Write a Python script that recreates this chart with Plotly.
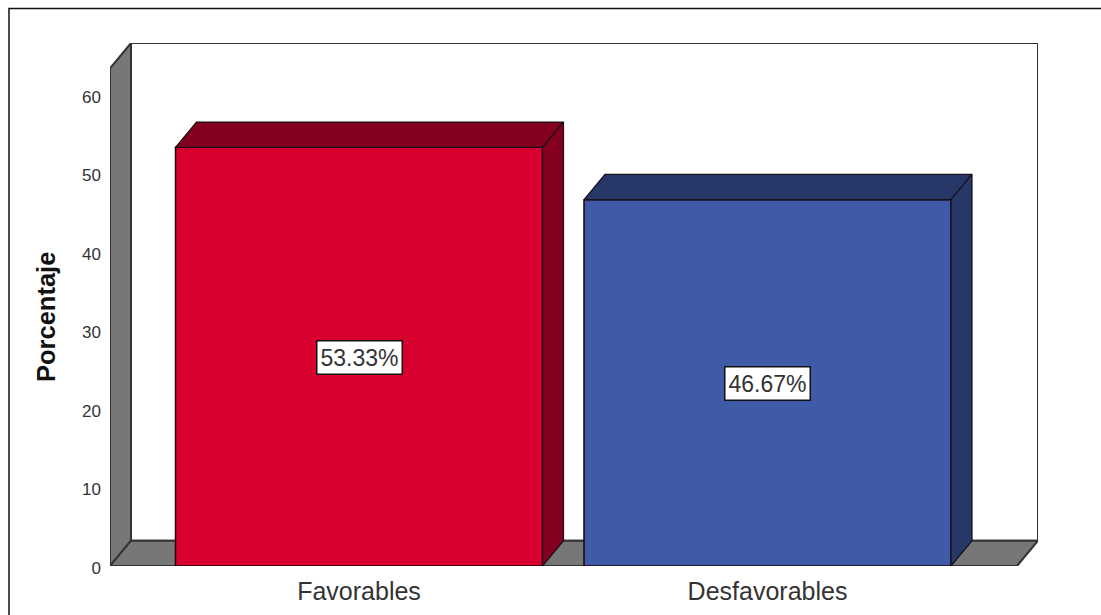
import plotly.graph_objects as go

categories = ["Favorables", "Desfavorables"]
values = [53.33, 46.67]
labels = ["53.33%", "46.67%"]
y_ticks = [0, 10, 20, 30, 40, 50, 60]
front_colors = ["#D7002E", "#3F5BA8"]
dark_colors = ["#85001F", "#263768"]

W, H = 1101, 615
L, R, T, B = 110, 1038, 43, 566
PX_X = 408.5
PX_Y = 7.85
X0 = -(359 - L) / PX_X
X1 = 1 + (R - 767.5) / PX_X
Y1 = (B - T) / PX_Y
DX = 21 / PX_X
DY = 25.3 / PX_Y
BW = 367 / PX_X
WALL = "#777777"
EDGE = "#333333"
xs = list(range(len(categories)))
fx0 = X0
fx1 = X1 - DX
fy1 = Y1 - DY

fig = go.Figure()
fig.add_trace(go.Bar(x=xs, y=values, width=BW, marker=dict(color=front_colors, line=dict(color="#200008", width=1.5)), hoverinfo="skip"))

for x, v, c in zip(xs, values, dark_colors):
    a, b = x - BW / 2, x + BW / 2
    fig.add_trace(go.Scatter(x=[a, a + DX, b + DX, b, a], y=[v, v + DY, v + DY, v, v], mode="lines", fill="toself",
                             fillcolor=c, line=dict(color="#15101a", width=1.2), hoverinfo="skip"))
    fig.add_trace(go.Scatter(x=[b, b + DX, b + DX, b, b], y=[v, v + DY, DY, 0, v], mode="lines", fill="toself",
                             fillcolor=c, line=dict(color="#15101a", width=1.2), hoverinfo="skip"))


def poly(pts):
    return "M" + " L".join(f"{x},{y}" for x, y in pts) + " Z"


shapes = [
    dict(type="path", layer="below", xref="x", yref="y", path=poly([(fx0 + DX, DY), (X1, DY), (X1, Y1), (fx0 + DX, Y1)]),
         fillcolor="#FFFFFF", line=dict(color=EDGE, width=2)),
    dict(type="path", layer="below", xref="x", yref="y", path=poly([(fx0, 0), (fx0 + DX, DY), (fx0 + DX, Y1), (fx0, fy1)]),
         fillcolor=WALL, line=dict(color=EDGE, width=2)),
    dict(type="path", layer="below", xref="x", yref="y", path=poly([(fx0, 0), (fx1, 0), (X1, DY), (fx0 + DX, DY)]),
         fillcolor=WALL, line=dict(color=EDGE, width=2)),
    dict(type="path", xref="paper", yref="paper",
         path=poly([((9 - L) / (R - L), (B - 640) / (B - T)), ((9 - L) / (R - L), (B - 8.5) / (B - T)),
                    ((1130 - L) / (R - L), (B - 8.5) / (B - T)), ((1130 - L) / (R - L), (B - 640) / (B - T))]),
         fillcolor="rgba(0,0,0,0)", line=dict(color="#111111", width=1.5)),
]

annotations = [
    dict(x=x, y=v / 2, yshift=-1, xref="x", yref="y", text=t, showarrow=False, bgcolor="#FFFFFF", bordercolor="#111111",
         borderwidth=1.5, borderpad=3, font=dict(family="Liberation Sans", size=23, color="#333333"))
    for x, v, t in zip(xs, values, labels)
]
annotations.append(dict(x=(46 - L) / (R - L), y=(B - 317) / (B - T), xref="paper", yref="paper", text="<b>Porcentaje</b>",
                        xanchor="center", yanchor="middle", textangle=-90, showarrow=False,
                        font=dict(family="Liberation Sans", size=25.5, color="#111111")))

fig.update_layout(
    width=W, height=H, autosize=False, showlegend=False,
    margin=dict(l=L, r=W - R, t=T, b=H - B, pad=0, autoexpand=False),
    paper_bgcolor="#FFFFFF", plot_bgcolor="rgba(0,0,0,0)",
    shapes=shapes, annotations=annotations,
    font=dict(family="Liberation Sans", color="#333333"),
    xaxis=dict(range=[X0, X1], tickmode="array", tickvals=xs, ticktext=categories, showgrid=False, zeroline=False,
               showline=False, ticks="", tickfont=dict(size=25), ticklabelstandoff=8, automargin=False),
    yaxis=dict(range=[0, Y1], tickmode="array", tickvals=y_ticks, showgrid=False, zeroline=False, showline=False,
               ticks="", tickfont=dict(size=17), ticklabelstandoff=8, ticklabelshift=2, automargin=False),
)

fig.write_html("out.html", config={"displayModeBar": False},
               post_script="document.body.style.margin='0';document.body.style.overflow='hidden';")
